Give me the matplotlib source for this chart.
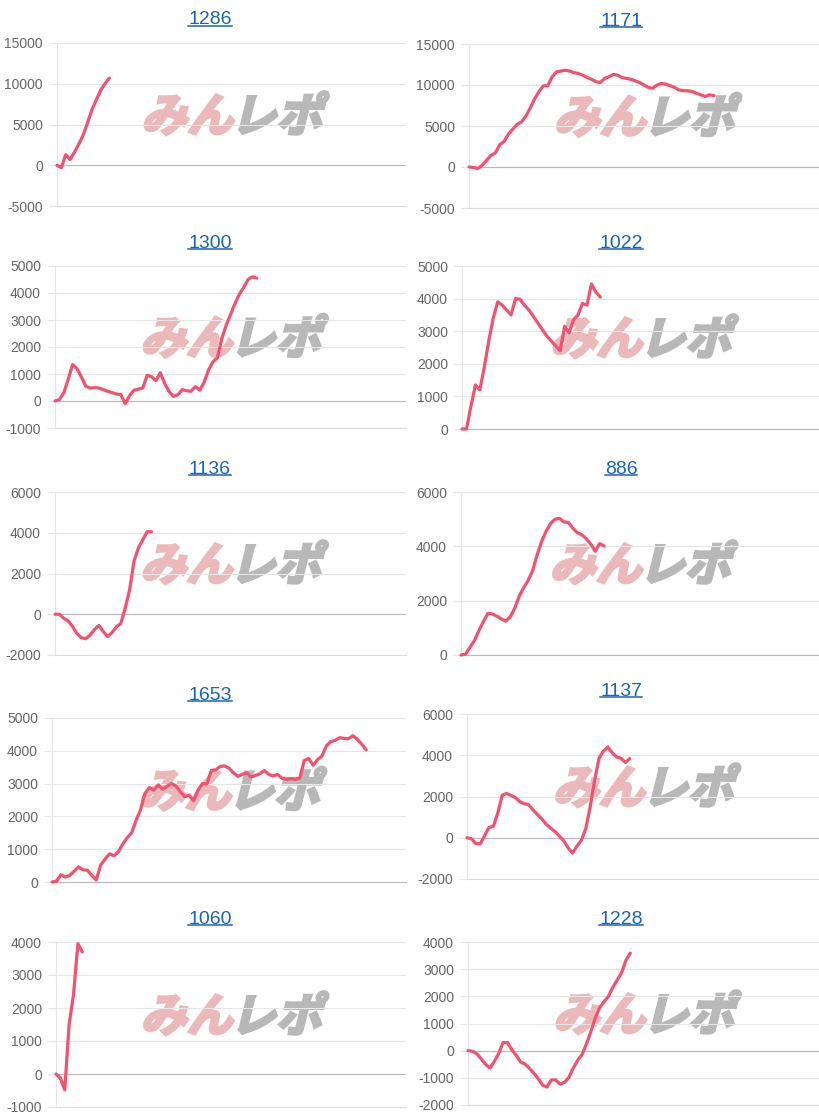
import numpy as np
import matplotlib.pyplot as plt
from matplotlib.lines import Line2D
from matplotlib.patches import PathPatch
from matplotlib.textpath import TextPath
from matplotlib.font_manager import FontProperties
from matplotlib.transforms import Affine2D

plt.rcParams['font.family'] = ['Liberation Sans', 'DejaVu Sans']

W, H = 819, 1120
XMAX = 80

titles = ["1286", "1171", "1300", "1022", "1136", "886", "1653", "1137", "1060", "1228"]

s1286 = [0, -300, 1300, 700, 1600, 2600, 3700, 5200, 6800, 8000, 9200, 10000, 10700]
s1171 = [0, -50, -200, 200, 800, 1400, 1700, 2700, 3100, 4000, 4600, 5200, 5500, 6200,
         7200, 8300, 9200, 9900, 9900, 11000, 11600, 11700, 11800, 11700, 11500, 11400,
         11200, 10900, 10700, 10400, 10300, 10800, 11000, 11300, 11200, 10900, 10800,
         10700, 10500, 10300, 10000, 9700, 9600, 10000, 10200, 10100, 9900, 9700, 9400,
         9300, 9300, 9200, 9000, 8800, 8600, 8800, 8700]
s1300 = [0, 50, 300, 800, 1350, 1200, 900, 550, 480, 490, 480, 420, 360, 310, 260, 240,
         -100, 200, 400, 440, 480, 950, 900, 750, 1050, 650, 350, 170, 230, 420, 380, 360,
         530, 400, 700, 1150, 1450, 1600, 2300, 2800, 3200, 3600, 3950, 4200, 4500, 4600,
         4550]
s1022 = [0, 0, 700, 1350, 1200, 1900, 2700, 3400, 3900, 3800, 3650, 3500, 4000, 3980,
         3800, 3650, 3450, 3250, 3050, 2850, 2700, 2550, 2400, 3150, 2950, 3350, 3500,
         3850, 3800, 4450, 4200, 4050]
s1136 = [0, 0, -200, -330, -600, -950, -1150, -1200, -1030, -750, -550, -850, -1100,
         -900, -620, -450, 300, 1200, 2600, 3250, 3650, 4050, 4050]
s886 = [0, 30, 280, 530, 900, 1230, 1530, 1510, 1430, 1330, 1250, 1400, 1720, 2160, 2480,
        2740, 3100, 3680, 4170, 4550, 4830, 5000, 5030, 4900, 4880, 4670, 4500, 4430,
        4280, 4080, 3820, 4100, 4010]
s1653 = [0, 20, 220, 150, 200, 330, 460, 370, 360, 200, 60, 520, 700, 860, 800, 920, 1160,
         1350, 1500, 1880, 2200, 2700, 2880, 2800, 2960, 2830, 2920, 3000, 2930, 2750,
         2600, 2650, 2480, 2800, 3000, 2990, 3400, 3420, 3520, 3540, 3470, 3330, 3220,
         3280, 3330, 3200, 3250, 3300, 3400, 3280, 3230, 3280, 3160, 3130, 3150, 3130,
         3170, 3700, 3770, 3560, 3730, 3840, 4150, 4280, 4320, 4400, 4380, 4370, 4460,
         4350, 4200, 4030]
s1137 = [0, -50, -280, -300, 100, 500, 560, 1200, 2060, 2150, 2050, 1950, 1750, 1650,
         1600, 1350, 1130, 920, 650, 470, 300, 80, -150, -500, -740, -400, -120, 450,
         1500, 2780, 3850, 4200, 4400, 4120, 3920, 3850, 3650, 3840]
s1060 = [0, -120, -480, 1500, 2400, 3950, 3700]
s1228 = [0, -20, -110, -300, -500, -640, -400, -100, 300, 300, 30, -170, -420, -490,
         -650, -830, -1030, -1270, -1340, -1080, -1080, -1230, -1170, -980, -640, -350,
         -140, 250, 700, 1200, 1580, 1800, 2000, 2330, 2600, 2870, 3330, 3590]

series = [s1286, s1171, s1300, s1022, s1136, s886, s1653, s1137, s1060, s1228]

y_limits = [(-5000, 15000), (-5000, 15000), (-1000, 5000), (0, 5000), (-2000, 6000),
            (0, 6000), (0, 5000), (-2000, 6000), (-1000, 4000), (-2000, 4000)]
y_steps = [5000, 5000, 1000, 1000, 2000, 2000, 1000, 2000, 1000, 1000]

# plot boxes in pixels: left, top, right, bottom
boxes = [(57, 43, 406, 206), (469, 44, 819, 208),
         (55, 266, 406, 428), (462, 266, 819, 429),
         (55, 492, 406, 655), (461, 492, 819, 655),
         (52, 718, 406, 882), (467, 714, 819, 879),
         (56, 942, 406, 1107), (468, 942, 819, 1105)]
title_x = [210, 621]

LINE = '#f4516e'
GRID = '#e6e6e6'
ZERO = '#b9b9b9'
BLUE = '#1a65b9'

fig = plt.figure(figsize=(W / 100, H / 100), dpi=100)

wm_font = FontProperties(family='Noto Sans CJK JP', weight='bold')


def watermark(cx, cy):
    parts = [("みん", '#ebb9b9'), ("レポ", '#b8b8b8')]
    paths = [TextPath((0, 0), s, size=46, prop=wm_font) for s, _ in parts]
    widths = [p.get_extents().width for p in paths]
    gap = 8
    x = cx - (sum(widths) + gap) / 2
    base = H - cy - 17
    for path, (_, color), w in zip(paths, parts, widths):
        x0 = path.get_extents().x0
        tr = Affine2D().translate(-x0, 0).skew_deg(14, 0).translate(x, base)
        fig.add_artist(PathPatch(path, transform=tr, fc=color, ec=color, lw=2.2,
                                 joinstyle='miter', zorder=-1))
        x += w + gap


title_texts = []
for i, (title, values) in enumerate(zip(titles, series)):
    l, t, r, b = boxes[i]
    ax = fig.add_axes([l / W, 1 - b / H, (r - l) / W, (b - t) / H])
    ax.patch.set_visible(False)
    lo, hi = y_limits[i]
    ax.set_xlim(0, XMAX)
    ax.set_ylim(lo, hi)
    ax.set_yticks(np.arange(lo, hi + 1, y_steps[i]))
    ax.set_yticklabels([str(v) for v in np.arange(lo, hi + 1, y_steps[i])])
    ax.set_xticks([])
    ax.grid(axis='y', color=GRID, lw=0.8)
    ax.set_axisbelow(True)
    if lo < 0:
        ax.axhline(0, color=ZERO, lw=0.8, zorder=1)
    for side in ['top', 'right']:
        ax.spines[side].set_visible(False)
    ax.spines['left'].set_color(GRID)
    ax.spines['left'].set_linewidth(0.8)
    ax.spines['bottom'].set_color(ZERO if lo == 0 else '#dcdcdc')
    ax.spines['bottom'].set_linewidth(0.8)
    ax.tick_params(axis='y', length=6, width=0.8, color=GRID, labelcolor='#666666',
                   labelsize=10, pad=4)
    ax.plot(np.arange(len(values)), values, color=LINE, lw=2.3,
            solid_joinstyle='round', solid_capstyle='round', clip_on=False, zorder=3)

    watermark((l + r) / 2, (t + b) / 2 - 10)
    tt = fig.text(title_x[i % 2] / W, 1 - (t - 23) / H, title, ha='center', va='center',
                  color=BLUE, fontsize=14)
    title_texts.append(tt)

# underline the titles like links
fig.canvas.draw()
renderer = fig.canvas.get_renderer()
for tt in title_texts:
    bb = tt.get_window_extent(renderer)
    y = bb.y0 + 2.5
    fig.add_artist(Line2D([bb.x0, bb.x1], [y, y], transform=None, color=BLUE, lw=1.1))

fig.savefig('out.png', dpi=100)
